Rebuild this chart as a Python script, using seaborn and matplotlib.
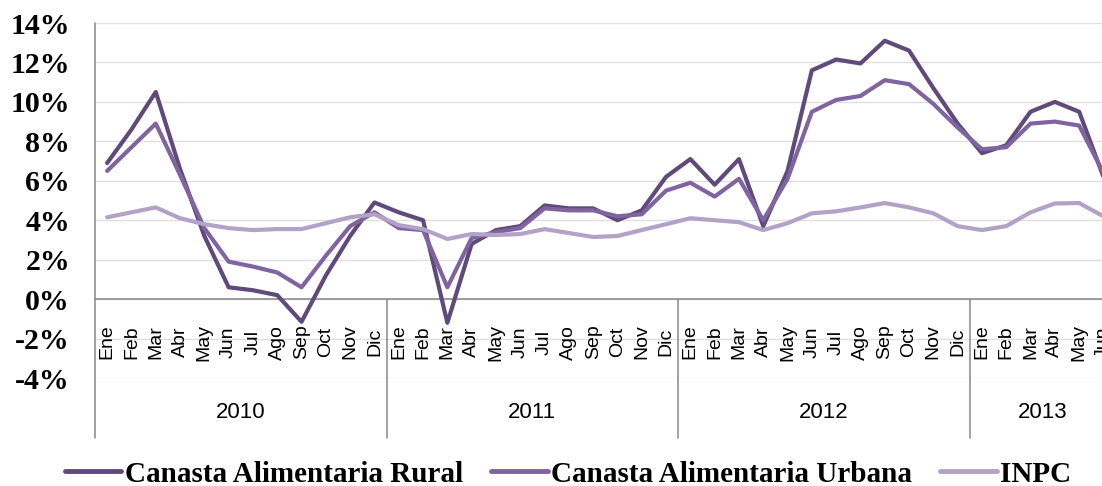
import numpy as np
import pandas as pd
import matplotlib
matplotlib.use("Agg")
import matplotlib.pyplot as plt
import seaborn as sns
from matplotlib import transforms
from matplotlib.lines import Line2D

# ---------------- data ----------------
meses = ['Ene', 'Feb', 'Mar', 'Abr', 'May', 'Jun', 'Jul', 'Ago', 'Sep', 'Oct', 'Nov', 'Dic']
anios = ['2010', '2011', '2012', '2013']
meses_por_anio = [12, 12, 12, 6]

rural = [6.9, 8.6, 10.5, 6.6, 3.2, 0.6, 0.45, 0.2, -1.15, 1.2, 3.2, 4.9,
         4.4, 4.0, -1.2, 2.8, 3.5, 3.7, 4.75, 4.6, 4.6, 4.0, 4.5, 6.2,
         7.1, 5.8, 7.1, 3.7, 6.5, 11.6, 12.15, 11.95, 13.1, 12.6, 10.7, 8.9,
         7.4, 7.8, 9.5, 10.0, 9.5, 6.2]
urbana = [6.5, 7.7, 8.9, 6.3, 3.6, 1.9, 1.65, 1.35, 0.6, 2.2, 3.7, 4.4,
          3.6, 3.5, 0.6, 3.1, 3.4, 3.6, 4.6, 4.5, 4.5, 4.2, 4.3, 5.5,
          5.9, 5.2, 6.1, 4.0, 6.1, 9.5, 10.1, 10.3, 11.1, 10.9, 9.9, 8.7,
          7.6, 7.7, 8.9, 9.0, 8.8, 6.4]
inpc = [4.15, 4.4, 4.65, 4.1, 3.8, 3.6, 3.5, 3.55, 3.55, 3.85, 4.15, 4.3,
        3.75, 3.55, 3.05, 3.3, 3.25, 3.3, 3.55, 3.35, 3.15, 3.2, 3.5, 3.8,
        4.1, 4.0, 3.9, 3.5, 3.85, 4.35, 4.45, 4.65, 4.87, 4.65, 4.35, 3.7,
        3.5, 3.7, 4.4, 4.85, 4.87, 4.2]

series = ['Canasta Alimentaria Rural', 'Canasta Alimentaria Urbana', 'INPC']
colores = ['#604A7B', '#8064A2', '#B3A2C7']
y_ticks = [-4, -2, 0, 2, 4, 6, 8, 10, 12, 14]

etiquetas_mes = [m for n in meses_por_anio for m in meses[:n]]
n = len(etiquetas_mes)
df = pd.DataFrame({
    'idx': list(range(n)) * 3,
    'valor': rural + urbana + inpc,
    'serie': np.repeat(series, n),
})

# ---------------- figure ----------------
sns.set_theme(style='white')
W, H = 1102, 486
fig = plt.figure(figsize=(W / 100, H / 100), dpi=100)


def fx(px):
    return px / W


def fy(py):
    return 1 - py / H


left_px, top_px, bottom_px = 95, 23, 378
month_w = 24.3
right_px = left_px + n * month_w
ax = fig.add_axes([fx(left_px), fy(bottom_px), (right_px - left_px) / W, fy(top_px) - fy(bottom_px)])

sns.lineplot(data=df, x='idx', y='valor', hue='serie', hue_order=series,
             palette=dict(zip(series, colores)), linewidth=3, legend=False,
             ax=ax, zorder=3)

ax.set_xlim(-0.5, n - 0.5)
ax.set_ylim(-4, 14)
ax.set_yticks(y_ticks)
ax.set_yticklabels([f'{v}%' for v in y_ticks], fontfamily='Liberation Serif',
                   fontweight='bold', fontsize=21.5, color='black')
ax.tick_params(axis='y', length=0, pad=18)
ax.set_xticks([])
ax.set_xlabel('')
ax.set_ylabel('')
ax.grid(axis='y', color='#e0e0e0', lw=1.0)
ax.grid(axis='x', visible=False)
ax.set_axisbelow(True)
for s in ax.spines.values():
    s.set_visible(False)
ax.axhline(0, color='#868686', lw=1.1, zorder=2)

# month labels
off = transforms.offset_copy(ax.transData, fig=fig, x=0, y=-43, units='dots')
for i, m in enumerate(etiquetas_mes):
    ax.text(i, 0, m, transform=off, rotation=90, ha='center', va='center',
            fontsize=14, family='Liberation Sans', color='black', clip_on=False)

# year groups
blend = transforms.blended_transform_factory(ax.transData, fig.transFigure)
bounds = np.concatenate([[0], np.cumsum(meses_por_anio)]) - 0.5
fig.add_artist(Line2D([-0.5, -0.5], [fy(top_px), fy(438)], transform=blend,
                      color='#868686', lw=1.1))
for b in bounds[1:]:
    fig.add_artist(Line2D([b, b], [fy(299), fy(438)], transform=blend,
                          color='#868686', lw=1.1))
for k, a in enumerate(anios):
    c = (bounds[k] + bounds[k + 1]) / 2
    ax.text(c, fy(413), a, transform=blend, ha='center', va='center',
            fontsize=16, family='Liberation Sans', color='black', clip_on=False)

# legend
handles = [Line2D([0], [0], color=c, lw=3.5) for c in colores]
leg = fig.legend(handles, series, loc='center', bbox_to_anchor=(fx(568), fy(474)),
                 ncol=3, frameon=False,
                 prop={'family': 'Liberation Serif', 'weight': 'bold', 'size': 21},
                 handlelength=1.95, handletextpad=0.12, columnspacing=0.95,
                 borderaxespad=0)
for t in leg.get_texts():
    t.set_color('black')

fig.savefig('out.png', dpi=100)
